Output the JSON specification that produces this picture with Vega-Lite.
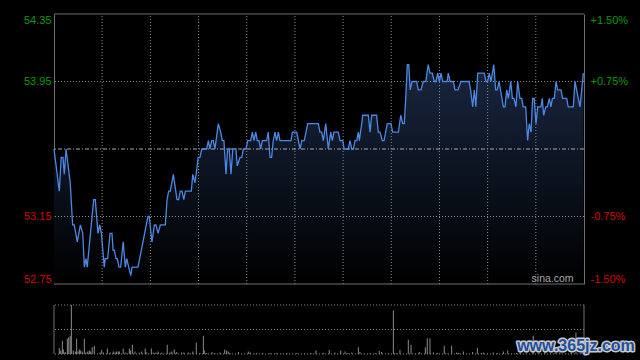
{
  "$schema": "https://vega.github.io/schema/vega-lite/v6.json",
  "width": 530,
  "height": 340,
  "autosize": {"type": "none"},
  "padding": {"left": 54, "top": 14, "right": 56, "bottom": 6},
  "background": "#000000",
  "config": {"view": {"stroke": null}, "font": "Liberation Sans"},
  "datasets": {
    "price": [
      {"t":0,"p":53.55},{"t":3.3,"p":53.30},{"t":4.5,"p":53.50},{"t":5.6,"p":53.50},{"t":6.4,"p":53.40},{"t":7.5,"p":53.55},
      {"t":10.1,"p":53.35},{"t":11.6,"p":53.10},{"t":12.6,"p":53.10},{"t":14.5,"p":53.00},{"t":16.4,"p":53.10},{"t":17.9,"p":53.05},
      {"t":18.9,"p":52.85},{"t":19.9,"p":52.90},{"t":20.7,"p":52.85},{"t":24.7,"p":53.25},{"t":25.7,"p":53.25},{"t":27.4,"p":53.05},
      {"t":28.5,"p":53.10},{"t":29.5,"p":53.05},{"t":31.3,"p":52.85},{"t":31.9,"p":52.90},{"t":33.4,"p":52.90},{"t":34.9,"p":53.05},
      {"t":36.1,"p":53.05},{"t":36.8,"p":52.95},{"t":37.6,"p":52.95},{"t":38.6,"p":52.90},{"t":39.4,"p":52.90},{"t":40.5,"p":52.85},
      {"t":41.5,"p":52.85},{"t":43.1,"p":53.00},{"t":44.4,"p":52.85},{"t":45.3,"p":52.90},{"t":46.5,"p":52.85},{"t":47.8,"p":52.80},
      {"t":48.6,"p":52.85},{"t":52.3,"p":52.85},{"t":58.5,"p":53.15},{"t":59.3,"p":53.15},{"t":61,"p":53.00},{"t":62.5,"p":53.10},
      {"t":63.5,"p":53.10},{"t":64.8,"p":53.05},{"t":66.2,"p":53.10},{"t":69.3,"p":53.10},{"t":70.4,"p":53.25},{"t":71.4,"p":53.30},
      {"t":72.4,"p":53.30},{"t":74.3,"p":53.40},{"t":76.6,"p":53.25},{"t":77.6,"p":53.25},{"t":78.6,"p":53.30},{"t":79.7,"p":53.30},
      {"t":80.8,"p":53.25},{"t":81.8,"p":53.30},{"t":85.5,"p":53.30},{"t":86.4,"p":53.40},{"t":87.8,"p":53.35},{"t":89.8,"p":53.50},
      {"t":90.9,"p":53.50},{"t":92,"p":53.55},{"t":95.1,"p":53.55},{"t":96.1,"p":53.60},{"t":97.1,"p":53.55},{"t":98.2,"p":53.60},
      {"t":99.2,"p":53.60},{"t":100.2,"p":53.55},{"t":102.3,"p":53.70},{"t":103.8,"p":53.65},{"t":104.8,"p":53.60},{"t":105.8,"p":53.60},
      {"t":107.1,"p":53.40},{"t":108.1,"p":53.55},{"t":109.1,"p":53.55},{"t":110.2,"p":53.40},{"t":111.3,"p":53.55},{"t":113.3,"p":53.55},
      {"t":114.1,"p":53.45},{"t":115.8,"p":53.50},{"t":116.9,"p":53.50},{"t":117.9,"p":53.55},{"t":119.5,"p":53.55},{"t":120.6,"p":53.60},
      {"t":122.5,"p":53.60},{"t":123.5,"p":53.65},{"t":124.5,"p":53.60},{"t":125.6,"p":53.65},{"t":126.6,"p":53.60},{"t":127.6,"p":53.60},
      {"t":128.7,"p":53.55},{"t":129.7,"p":53.60},{"t":132.4,"p":53.60},{"t":133.4,"p":53.65},{"t":134.5,"p":53.50},{"t":135.5,"p":53.50},
      {"t":136.5,"p":53.60},{"t":137.6,"p":53.65},{"t":138.6,"p":53.60},{"t":139.7,"p":53.65},{"t":140.7,"p":53.60},{"t":147.6,"p":53.60},
      {"t":148.4,"p":53.65},{"t":151.1,"p":53.65},{"t":153.2,"p":53.55},{"t":154.3,"p":53.60},{"t":155.8,"p":53.60},{"t":158,"p":53.70},
      {"t":164.6,"p":53.70},{"t":165.6,"p":53.65},{"t":166.7,"p":53.65},{"t":167.7,"p":53.60},{"t":169.2,"p":53.70},{"t":170.8,"p":53.55},
      {"t":172.3,"p":53.65},{"t":173.3,"p":53.60},{"t":174.3,"p":53.65},{"t":177,"p":53.65},{"t":178.1,"p":53.60},{"t":179.8,"p":53.60},
      {"t":180.7,"p":53.55},{"t":183.2,"p":53.55},{"t":184.3,"p":53.60},{"t":185.4,"p":53.55},{"t":186.4,"p":53.55},{"t":187.4,"p":53.60},
      {"t":188.5,"p":53.60},{"t":189.5,"p":53.65},{"t":190.1,"p":53.60},{"t":191.6,"p":53.70},{"t":192.2,"p":53.75},{"t":195.7,"p":53.75},
      {"t":196.8,"p":53.65},{"t":197.8,"p":53.75},{"t":200.9,"p":53.75},{"t":201.9,"p":53.65},{"t":203,"p":53.65},{"t":204.4,"p":53.60},
      {"t":205.5,"p":53.60},{"t":206.5,"p":53.65},{"t":207.5,"p":53.70},{"t":209.8,"p":53.70},{"t":210.9,"p":53.65},{"t":214.4,"p":53.65},
      {"t":215.9,"p":53.75},{"t":217.1,"p":53.70},{"t":218.1,"p":53.70},{"t":219,"p":53.85},{"t":220,"p":54.05},{"t":220.9,"p":54.05},
      {"t":221.8,"p":53.90},{"t":222.9,"p":53.95},{"t":225.8,"p":53.95},{"t":226.8,"p":53.90},{"t":228.5,"p":53.90},{"t":229.9,"p":53.95},
      {"t":231.5,"p":53.95},{"t":233,"p":54.05},{"t":234.1,"p":54.00},{"t":235.5,"p":54.00},{"t":236.8,"p":53.95},{"t":237.8,"p":53.95},
      {"t":238.9,"p":54.00},{"t":239.9,"p":53.95},{"t":241,"p":54.00},{"t":242,"p":53.95},{"t":244.8,"p":53.95},{"t":245.5,"p":54.00},
      {"t":246.6,"p":53.95},{"t":248.6,"p":53.95},{"t":249.7,"p":53.90},{"t":251.5,"p":53.90},{"t":253.4,"p":53.95},{"t":258.4,"p":53.95},
      {"t":259.4,"p":53.90},{"t":260.7,"p":53.80},{"t":261.7,"p":53.90},{"t":262.7,"p":53.80},{"t":263.8,"p":54.00},{"t":267.9,"p":54.00},
      {"t":269,"p":53.95},{"t":270,"p":53.95},{"t":271,"p":54.00},{"t":272.1,"p":53.95},{"t":273.8,"p":54.05},{"t":275,"p":53.90},
      {"t":276,"p":53.90},{"t":277.1,"p":53.95},{"t":279.8,"p":53.80},{"t":280.8,"p":53.80},{"t":281.9,"p":53.90},{"t":282.9,"p":53.85},
      {"t":284.4,"p":53.95},{"t":285.4,"p":53.85},{"t":286.4,"p":53.85},{"t":287.6,"p":53.80},{"t":288.7,"p":53.95},{"t":290.1,"p":53.85},
      {"t":291.2,"p":53.85},{"t":292.2,"p":53.80},{"t":293.7,"p":53.80},{"t":294.9,"p":53.60},{"t":295.9,"p":53.70},{"t":297,"p":53.65},
      {"t":298,"p":53.85},{"t":299,"p":53.85},{"t":300.1,"p":53.70},{"t":301.2,"p":53.80},{"t":303.2,"p":53.80},{"t":304,"p":53.85},
      {"t":304.9,"p":53.75},{"t":306.2,"p":53.80},{"t":307.2,"p":53.80},{"t":308.4,"p":53.85},{"t":309.4,"p":53.80},{"t":310.3,"p":53.85},
      {"t":311.5,"p":53.85},{"t":312.6,"p":53.95},{"t":313.6,"p":53.90},{"t":315.7,"p":53.90},{"t":316.7,"p":53.85},{"t":319.2,"p":53.85},
      {"t":320.2,"p":53.80},{"t":323.3,"p":53.80},{"t":324.4,"p":53.95},{"t":327.5,"p":53.80},{"t":329.6,"p":54.00}
    ],
    "vol": [
      {"t":3.3,"v":12},{"t":4.2,"v":7},{"t":5.2,"v":27},{"t":5.8,"v":9},{"t":7,"v":4},{"t":8.3,"v":31},{"t":9.2,"v":34},{"t":10.1,"v":37},
      {"t":10.8,"v":100},{"t":12,"v":7},{"t":13.3,"v":5},{"t":14.1,"v":31},{"t":14.9,"v":5},{"t":15.8,"v":9},{"t":16.6,"v":7},{"t":17.6,"v":5},
      {"t":18.9,"v":31},{"t":19.9,"v":3},{"t":21,"v":5},{"t":22,"v":7},{"t":22.8,"v":5},{"t":23.8,"v":14},{"t":25.1,"v":17},{"t":28.6,"v":3},
      {"t":29.7,"v":8},{"t":30.7,"v":3},{"t":33.2,"v":11},{"t":34.9,"v":3},{"t":36.9,"v":5},{"t":38,"v":3},{"t":39,"v":5},{"t":40,"v":5},
      {"t":40.7,"v":5},{"t":43.1,"v":11},{"t":44.8,"v":3},{"t":46.9,"v":11},{"t":47.7,"v":7},{"t":48.8,"v":19},{"t":50.4,"v":5},{"t":53.1,"v":3},
      {"t":54.6,"v":5},{"t":56.8,"v":11},{"t":57.7,"v":3},{"t":60.6,"v":11},{"t":61.8,"v":3},{"t":63.5,"v":3},{"t":64.9,"v":5},{"t":67.1,"v":3},
      {"t":70.5,"v":19},{"t":72.2,"v":3},{"t":73.3,"v":5},{"t":74.9,"v":9},{"t":76.4,"v":4},{"t":79.5,"v":3},{"t":80.9,"v":3},{"t":83.9,"v":3},
      {"t":86.4,"v":5},{"t":88.6,"v":23},{"t":90.9,"v":2},{"t":93,"v":37},{"t":93.6,"v":7},{"t":95.1,"v":2},{"t":98.4,"v":4},{"t":100.2,"v":2},
      {"t":103.4,"v":3},{"t":106.3,"v":9},{"t":107.5,"v":7},{"t":108.5,"v":5},{"t":109.6,"v":2},{"t":114.8,"v":4},{"t":121,"v":5},{"t":122.1,"v":3},
      {"t":125,"v":1},{"t":126.2,"v":2},{"t":130,"v":2},{"t":134.5,"v":2},{"t":138.7,"v":2},{"t":142,"v":1},{"t":145,"v":2},{"t":151.1,"v":2},
      {"t":156,"v":1},{"t":160,"v":2},{"t":163.1,"v":7},{"t":167.7,"v":2},{"t":171.4,"v":8},{"t":174.9,"v":3},{"t":178.5,"v":7},{"t":181.2,"v":5},
      {"t":183,"v":2},{"t":185.4,"v":3},{"t":189.5,"v":14},{"t":190.5,"v":4},{"t":193,"v":1},{"t":196.8,"v":2},{"t":200,"v":2},{"t":202.5,"v":6},
      {"t":204,"v":4},{"t":208,"v":1},{"t":211.3,"v":89},{"t":213,"v":2},{"t":215.4,"v":8},{"t":220.6,"v":29},{"t":222.3,"v":19},{"t":225,"v":1},
      {"t":227.5,"v":4},{"t":231.2,"v":14},{"t":232.4,"v":32},{"t":234.1,"v":32},{"t":236.2,"v":3},{"t":239,"v":2},{"t":243,"v":17},{"t":245,"v":1},
      {"t":247.6,"v":17},{"t":250.7,"v":3},{"t":252,"v":2},{"t":254.9,"v":5},{"t":257,"v":1},{"t":260.7,"v":4},{"t":263.6,"v":12},{"t":266,"v":2},
      {"t":267.3,"v":3},{"t":270,"v":1},{"t":273.5,"v":3},{"t":276,"v":2},{"t":279.8,"v":5},{"t":282.5,"v":7},{"t":285,"v":1},{"t":288,"v":2},
      {"t":290.2,"v":5},{"t":294,"v":1},{"t":298.4,"v":37},{"t":302,"v":2},{"t":305.7,"v":4},{"t":309,"v":1},{"t":312,"v":2},{"t":315,"v":5},
      {"t":319,"v":1},{"t":322,"v":2},{"t":325,"v":44},{"t":328.8,"v":6}
    ],
    "vgrid": [{"t":30},{"t":60},{"t":90},{"t":120},{"t":150},{"t":180},{"t":210},{"t":240},{"t":270},{"t":300}],
    "hgrid": [{"p":53.15},{"p":53.95}],
    "border": [{"p":54.35},{"p":52.75}],
    "vlines": [{"v":0},{"v":50},{"v":100}],
    "vborder": [{"t":0},{"t":330}]
  },
  "resolve": {"scale": {"y": "independent"}, "axis": {"y": "independent"}},
  "layer": [
    {
      "data": {"name": "price"},
      "mark": {"type": "area", "color": {"gradient": "linear", "x1": 0, "y1": 0, "x2": 0, "y2": 1, "stops": [{"offset": 0, "color": "#18263f"}, {"offset": 1, "color": "#000000"}]}},
      "encoding": {
        "x": {"field": "t", "type": "quantitative", "scale": {"domain": [0, 330], "nice": false, "zero": false, "padding": 0}, "axis": null},
        "y": {"field": "p", "type": "quantitative", "scale": {"domain": [52.75, 54.35], "range": [270, 0], "nice": false, "zero": false},
          "axis": {"orient": "left", "values": [52.75, 53.15, 53.95, 54.35], "format": ".2f", "grid": false, "ticks": false, "domain": true, "domainColor": "#707070", "domainWidth": 1, "labelFlush": true, "labelPadding": 3, "labelFontSize": 11, "labelFont": "Liberation Sans", "labelColor": {"expr": "datum.value > 53.55 ? '#0a9a0a' : '#d40000'"}, "title": null}},
        "y2": {"datum": 52.75}
      }
    },
    {
      "data": {"name": "vgrid"},
      "mark": {"type": "rule", "color": "#8a8a8a", "strokeWidth": 1, "strokeDash": [1, 2]},
      "encoding": {
        "x": {"field": "t", "type": "quantitative", "scale": {"domain": [0, 330], "nice": false, "zero": false, "padding": 0}, "axis": null},
        "y": {"datum": 52.75, "type": "quantitative", "scale": {"domain": [52.75, 54.35], "range": [270, 0], "nice": false, "zero": false}, "axis": null},
        "y2": {"datum": 54.35}
      }
    },
    {
      "data": {"name": "hgrid"},
      "mark": {"type": "rule", "color": "#8a8a8a", "strokeWidth": 1, "strokeDash": [1, 2]},
      "encoding": {
        "y": {"field": "p", "type": "quantitative", "scale": {"domain": [52.75, 54.35], "range": [270, 0], "nice": false, "zero": false}, "axis": null}
      }
    },
    {
      "data": {"values": [{}]},
      "mark": {"type": "rule", "color": "#a8a8a8", "strokeWidth": 1, "strokeDash": [4, 2, 1, 2]},
      "encoding": {
        "y": {"datum": 53.55, "type": "quantitative", "scale": {"domain": [52.75, 54.35], "range": [270, 0], "nice": false, "zero": false}, "axis": null}
      }
    },
    {
      "data": {"name": "price"},
      "mark": {"type": "line", "color": "#4c88e4", "strokeWidth": 1.3},
      "encoding": {
        "x": {"field": "t", "type": "quantitative", "scale": {"domain": [0, 330], "nice": false, "zero": false, "padding": 0}, "axis": null},
        "y": {"field": "p", "type": "quantitative", "scale": {"domain": [52.75, 54.35], "range": [270, 0], "nice": false, "zero": false},
          "axis": {"orient": "right", "values": [52.75, 53.15, 53.95, 54.35], "grid": false, "ticks": false, "domain": true, "domainColor": "#707070", "domainWidth": 1, "labelFlush": true, "labelPadding": 6, "labelFontSize": 11, "labelFont": "Liberation Sans",
            "labelExpr": "datum.value > 54 ? '+1.50%' : datum.value > 53.55 ? '+0.75%' : datum.value > 53 ? '-0.75%' : '-1.50%'",
            "labelColor": {"expr": "datum.value > 53.55 ? '#0a9a0a' : '#d40000'"}, "title": null}}
      }
    },
    {
      "data": {"name": "border"},
      "mark": {"type": "rule", "color": "#707070", "strokeWidth": 1},
      "encoding": {
        "y": {"field": "p", "type": "quantitative", "scale": {"domain": [52.75, 54.35], "range": [270, 0], "nice": false, "zero": false}, "axis": null}
      }
    },
    {
      "data": {"values": [{}]},
      "mark": {"type": "text", "text": "sina.com", "align": "right", "baseline": "middle", "color": "#a8a8a8", "fontSize": 10.5, "font": "Liberation Sans"},
      "encoding": {
        "x": {"datum": 323.5, "type": "quantitative", "scale": {"domain": [0, 330], "nice": false, "zero": false, "padding": 0}, "axis": null},
        "y": {"datum": 52.78, "type": "quantitative", "scale": {"domain": [52.75, 54.35], "range": [270, 0], "nice": false, "zero": false}, "axis": null}
      }
    },
    {
      "data": {"name": "vlines"},
      "mark": {"type": "rule", "color": "#8a8a8a", "strokeWidth": 1, "strokeDash": [1, 2]},
      "encoding": {
        "y": {"field": "v", "type": "quantitative", "scale": {"domain": [0, 100], "range": [340, 291], "nice": false, "zero": false}, "axis": null}
      }
    },
    {
      "data": {"name": "vol"},
      "mark": {"type": "bar", "color": "#8c8c8c", "size": 1},
      "encoding": {
        "x": {"field": "t", "type": "quantitative", "scale": {"domain": [0, 330], "nice": false, "zero": false, "padding": 0}, "axis": null},
        "y": {"field": "v", "type": "quantitative", "scale": {"domain": [0, 100], "range": [340, 291], "nice": false, "zero": false}, "axis": null},
        "y2": {"datum": 0}
      }
    },
    {
      "data": {"name": "vborder"},
      "mark": {"type": "rule", "color": "#707070", "strokeWidth": 1},
      "encoding": {
        "x": {"field": "t", "type": "quantitative", "scale": {"domain": [0, 330], "nice": false, "zero": false, "padding": 0}, "axis": null},
        "y": {"datum": 0, "type": "quantitative", "scale": {"domain": [0, 100], "range": [340, 291], "nice": false, "zero": false}, "axis": null},
        "y2": {"datum": 100}
      }
    },
    {
      "data": {"values": [{}]},
      "mark": {"type": "text", "text": "www.365jz.com", "align": "center", "baseline": "middle", "fontSize": 16, "fontWeight": "bold", "font": "Liberation Sans", "color": "#c9c9c9", "stroke": "#c9c9c9", "strokeWidth": 3, "strokeJoin": "round"},
      "encoding": {
        "x": {"datum": 325, "type": "quantitative", "scale": {"domain": [0, 330], "nice": false, "zero": false, "padding": 0}, "axis": null},
        "y": {"datum": 17, "type": "quantitative", "scale": {"domain": [0, 100], "range": [340, 291], "nice": false, "zero": false}, "axis": null}
      }
    },
    {
      "data": {"values": [{}]},
      "mark": {"type": "text", "text": "www.365jz.com", "align": "center", "baseline": "middle", "fontSize": 16, "fontWeight": "bold", "font": "Liberation Sans", "color": "#1d4f9e"},
      "encoding": {
        "x": {"datum": 325, "type": "quantitative", "scale": {"domain": [0, 330], "nice": false, "zero": false, "padding": 0}, "axis": null},
        "y": {"datum": 17, "type": "quantitative", "scale": {"domain": [0, 100], "range": [340, 291], "nice": false, "zero": false}, "axis": null}
      }
    }
  ]
}
